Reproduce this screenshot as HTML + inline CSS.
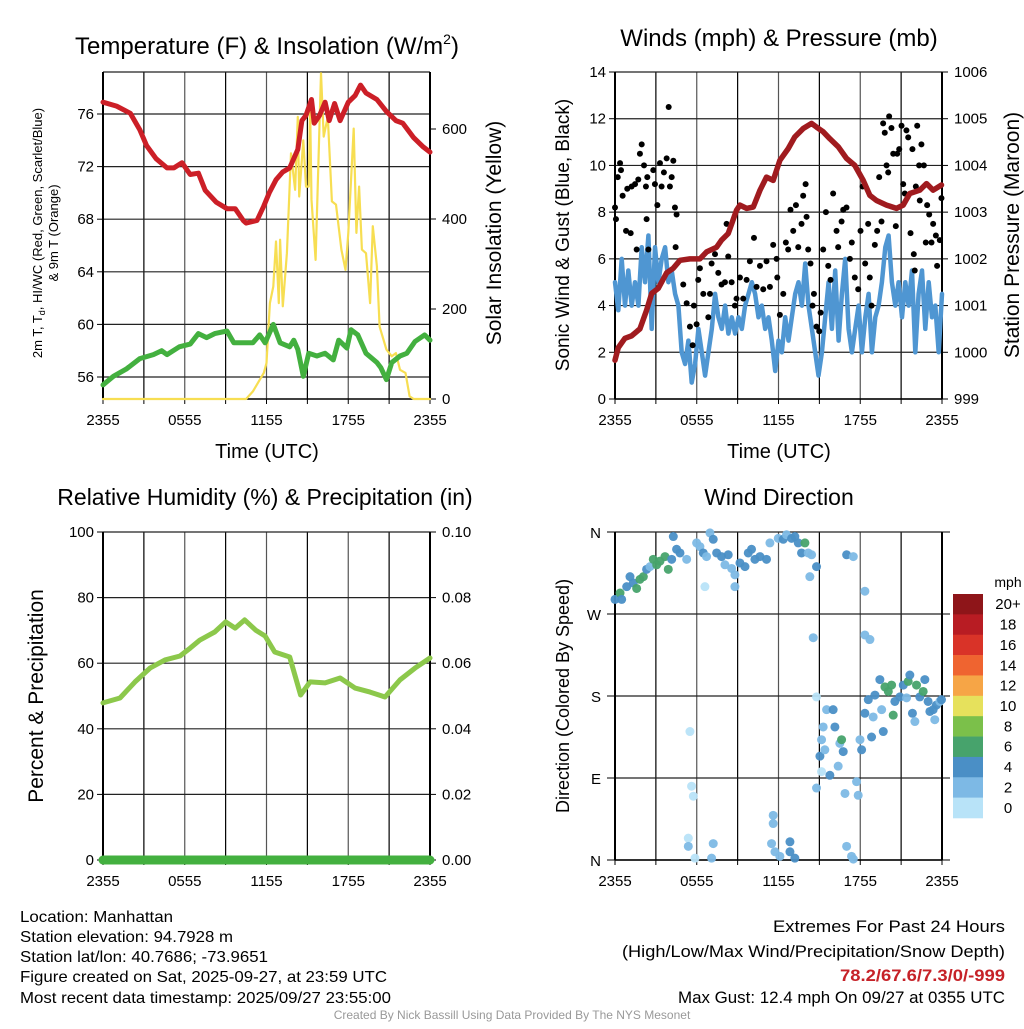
<!DOCTYPE html>
<html><head><meta charset="utf-8"><style>
html,body{margin:0;padding:0;background:#fff;}
svg text{font-family:"Liberation Sans",sans-serif;}
</style></head><body>
<svg id="root" width="1024" height="1024" viewBox="0 0 1024 1024" xmlns="http://www.w3.org/2000/svg">
<rect width="1024" height="1024" fill="#fff"/>
<g id="p1"></g>
<g id="p2"></g>
<g id="p3"></g>
<g id="p4"></g>
<g font-size="16" fill="#000">
<text x="20" y="922" textLength="153" lengthAdjust="spacingAndGlyphs">Location: Manhattan</text>
<text x="20" y="942" textLength="213" lengthAdjust="spacingAndGlyphs">Station elevation: 94.7928 m</text>
<text x="20" y="962" textLength="248" lengthAdjust="spacingAndGlyphs">Station lat/lon: 40.7686; -73.9651</text>
<text x="20" y="982" textLength="367" lengthAdjust="spacingAndGlyphs">Figure created on Sat, 2025-09-27, at 23:59 UTC</text>
<text x="20" y="1003" textLength="371" lengthAdjust="spacingAndGlyphs">Most recent data timestamp: 2025/09/27 23:55:00</text>
</g>
<g font-size="17" fill="#000">
<text x="773" y="932" textLength="232" lengthAdjust="spacingAndGlyphs">Extremes For Past 24 Hours</text>
<text x="622" y="957" textLength="383" lengthAdjust="spacingAndGlyphs">(High/Low/Max Wind/Precipitation/Snow Depth)</text>
<text x="840" y="981" textLength="165" lengthAdjust="spacingAndGlyphs" fill="#c62228" font-weight="bold">78.2/67.6/7.3/0/-999</text>
<text x="678" y="1003" textLength="327" lengthAdjust="spacingAndGlyphs">Max Gust: 12.4 mph On 09/27 at 0355 UTC</text>
</g>
<text x="512" y="1019" font-size="12" fill="#999" text-anchor="middle">Created By Nick Bassill Using Data Provided By The NYS Mesonet</text>
</svg>
<script>
// ---- Data ----
const xTickHours=[0,6,12,18,24];
const xTickLabels=["2355","0555","1155","1755","2355"];
const tempTimes=[0,1.0,2.0,2.7,3.2,3.9,4.7,5.2,5.8,6.4,7.0,7.5,8.3,9.1,9.7,10.3,10.5,11.3,11.8,12.2,12.7,13.2,13.7,14.3,14.6,14.9,15.3,15.5,15.9,16.3,16.6,17.0,17.4,18.0,18.5,18.9,19.3,20.1,20.8,21.5,22.0,22.8,23.5,24];
const tempVals=[76.9,76.6,76.05,74.8,73.6,72.6,71.9,71.9,72.3,71.4,71.5,70.2,69.3,68.8,68.8,67.9,67.7,67.9,69.0,70.0,71.0,71.6,71.9,73.3,75.5,75.9,77.1,75.3,75.9,76.9,75.5,76.8,75.5,76.9,77.4,78.2,77.6,77.1,76.2,75.5,75.3,74.2,73.5,73.1];
const dewTimes=[0,0.76,1.7,2.7,3.7,4.3,4.7,5.6,6.4,7.0,7.6,8.2,9.1,9.6,10.3,11.0,11.5,11.9,12.5,13.0,13.7,14.0,14.3,14.7,15.1,15.7,16.3,16.9,17.3,17.9,18.2,18.7,19.3,20.1,20.4,20.8,21.2,21.8,22.3,22.9,23.6,24];
const dewVals=[55.4,56.05,56.6,57.4,57.7,58.0,57.7,58.3,58.5,59.3,59.0,59.3,59.5,58.6,58.6,58.6,59.2,58.6,60.0,58.6,58.3,58.8,58.1,56.05,57.8,57.6,57.8,57.3,58.8,58.2,59.6,59.2,57.8,57.1,56.7,55.8,57.1,57.6,57.8,58.7,59.2,58.8];
const solarTimes=[0,10.5,11.0,11.8,12.0,12.25,12.5,12.7,12.9,13.0,13.2,13.5,13.8,14.1,14.3,14.4,14.7,14.9,15.1,15.2,15.3,15.6,15.8,16.0,16.2,16.5,16.8,17.1,17.5,17.8,18.0,18.4,18.6,18.8,19.0,19.3,19.6,19.8,20.1,20.3,20.8,21.2,21.5,21.8,22.2,22.5,22.8,24];
const solarVals=[0,0,17,58,80,213,250,350,213,354,206,324,546,465,627,450,575,472,472,650,443,309,516,724,583,627,439,432,332,287,369,601,369,472,332,324,213,384,295,161,110,95,102,65,58,6,0,0];
const windVals=[5,3.8,6,4,5.5,4,5,4,6.5,5,7,3,6.5,5,6,6.5,5,5.5,4.5,4,2,1.5,2.5,0.7,1.5,3,2,1,2,3,4.5,3.5,3,4,2.8,3.5,2.8,3.5,3,4,4.5,5,4.5,3.5,4,3,3.5,2.5,1.2,2.5,2,3.5,2.5,3.5,4.5,5,4,5.8,4,3,2,1,2,3.5,5,3,5.5,2.5,4.5,6,3,2,3,4,2,3.5,4.5,2,3.5,4,5,6.5,7,5,4,5,3.5,5,4,5.5,2,4.5,5.5,3,5,3.5,4,2,4.5];
const gustTimes=[0,0.07,0.2,0.37,0.44,0.56,0.81,0.9,1.15,1.22,1.47,1.59,1.71,1.83,1.96,2.13,2.27,2.32,2.37,2.45,2.81,2.93,3.11,3.3,3.42,3.59,3.79,3.94,4.03,4.16,4.28,4.4,4.52,4.45,5.01,5.26,5.5,5.7,5.79,5.99,6.11,6.23,6.48,6.85,6.97,7.09,7.34,7.58,7.82,8.07,8.19,8.31,8.56,8.8,8.92,9.17,9.41,9.66,9.9,10.2,10.39,10.64,10.88,11.12,11.37,11.61,11.86,11.91,12.1,12.35,12.54,12.71,12.88,13.08,13.28,13.45,13.69,13.81,13.99,14.06,14.18,14.35,14.5,14.6,14.79,14.99,15.09,15.28,15.48,15.65,15.82,16.01,16.26,16.38,16.63,16.75,16.99,17.24,17.38,17.6,17.85,18.02,18.17,18.36,18.58,18.7,18.83,19.07,19.24,19.39,19.56,19.68,19.8,19.93,20.05,20.12,20.29,20.42,20.61,20.71,20.86,21.03,21.15,21.27,21.39,21.52,21.69,21.83,21.93,22.0,22.08,22.18,22.32,22.37,22.49,22.67,22.81,22.91,23.06,23.23,23.35,23.55,23.64,23.84,23.96];
const gustVals=[8.2,7.7,9.5,10.1,9.8,8.7,7.2,9.0,7.1,9.1,9.2,6.4,9.4,10.5,10.9,10.0,9.1,7.7,9.5,6.4,9.8,9.2,8.3,10.1,9.1,9.7,10.3,12.5,9.1,9.5,10.2,8.2,7.9,6.5,4.9,4.1,3.1,2.3,4.0,3.2,5.1,5.6,4.5,3.5,4.5,5.8,6.2,5.4,4.9,5.0,7.5,6.1,5.0,4.0,4.3,5.2,4.3,5.1,5.9,6.9,4.8,5.7,4.7,5.9,4.8,6.6,6.0,5.2,3.6,4.5,6.7,6.4,8.1,7.2,8.3,6.5,7.5,8.7,9.2,7.8,6.4,5.8,4.0,4.5,3.1,2.9,3.7,6.4,8.0,5.7,5.1,8.8,7.2,6.5,7.6,8.1,8.2,6.0,6.7,5.2,4.7,7.2,9.1,5.8,7.5,5.2,4.0,6.6,7.2,9.5,7.6,11.8,11.4,10.0,9.7,12.1,11.6,10.5,7.4,10.5,10.7,11.7,9.2,8.8,11.5,11.2,7.1,10.7,6.2,5.5,9.1,11.7,10.0,8.5,10.9,10.0,6.7,8.3,7.9,6.7,7.5,7.0,5.7,6.8,8.6];
const presTimes=[0,0.24,0.73,1.22,1.83,2.32,2.69,3.18,3.79,4.28,4.77,5.5,6.23,6.72,7.46,7.82,8.31,8.92,9.17,9.66,10.15,10.64,11.12,11.61,12.1,12.71,13.2,13.81,14.43,14.79,15.28,15.77,16.38,16.99,17.6,18.22,18.7,19.19,19.93,20.66,21.15,21.64,22.37,22.86,23.35,23.96];
const presVals=[999.83,1000.1,1000.3,1000.35,1000.5,1000.9,1001.26,1001.37,1001.7,1001.8,1001.97,1002.0,1002.0,1002.15,1002.25,1002.4,1002.54,1003.04,1003.15,1003.08,1003.11,1003.47,1003.75,1003.68,1004.11,1004.36,1004.61,1004.79,1004.9,1004.82,1004.72,1004.57,1004.4,1004.15,1004.0,1003.68,1003.36,1003.25,1003.15,1003.08,1003.15,1003.4,1003.47,1003.61,1003.47,1003.58];
const rhTimes=[0,1.25,2.35,3.45,4.55,5.65,6.4,7.1,8.2,9.0,9.7,10.4,11.2,11.9,12.6,13.7,14.5,15.2,16.3,17.4,18.5,19.6,20.7,21.8,22.9,24];
const rhVals=[47.9,49.4,54.3,58.5,61,62.2,64.6,67,69.5,72.6,70.7,73.2,70.1,68.3,63.4,61.9,50.3,54.3,54,55.5,52.4,51.2,49.7,54.9,58.5,61.6];
const precipTimes=[0,24];
const precipVals=[0,0];
const dirTimes=[0,0.37,0.49,0.86,1.10,1.34,1.59,1.83,2.08,2.32,2.57,2.81,3.06,3.30,3.67,3.91,4.16,4.28,4.52,4.77,5.26,5.99,6.23,6.48,6.60,6.72,6.97,7.21,7.46,7.82,8.07,8.31,8.56,8.80,8.80,9.17,9.54,9.78,10.02,10.27,10.64,11.12,11.37,11.98,12.35,12.59,12.96,13.20,13.45,13.69,13.94,14.18,14.43,14.79,14.30,14.55,14.79,15.53,15.28,15.16,15.04,15.40,16.01,16.14,16.50,16.63,16.75,16.38,15.77,15.16,14.79,16.88,17.00,17.49,17.73,17.85,17.98,18.10,18.34,18.34,18.71,18.34,18.59,18.83,18.95,19.08,19.44,19.57,19.69,19.81,20.06,20.30,20.42,20.54,20.91,21.16,21.40,21.52,21.64,21.83,22.01,22.13,22.37,22.62,22.74,22.98,23.11,23.35,23.47,23.59,23.84,23.96,5.38,5.38,5.62,5.75,5.50,7.21,7.09,5.87,11.61,11.49,11.74,12.10,12.84,12.84,13.20,11.61,17.00,17.36,17.49];
const dirDeg=[286,293,286,300,311,304,298,308,311,319,322,330,324,328,333,319,330,355,341,337,330,348,344,337,300,333,359,352,337,333,324,335,320,313,300,326,322,337,341,330,333,330,348,353,352,357,353,355,348,337,348,337,335,322,311,244,179,165,146,132,114,121,165,146,128,132,119,103,93,97,79,73,335,333,86,71,132,121,295,247,242,161,176,135,157,181,198,165,141,190,185,192,159,174,179,192,178,196,203,161,152,192,179,185,198,174,163,165,154,170,174,176,24,15,81,70,141,18,2,2,49,18,9,4,20,9,2,40,15,4,1];
const dirSpeed=[4,6,4,4,4,4,6,6,6,4,2,6,6,6,6,6,4,4,4,4,2,2,2,4,0,2,2,4,4,4,2,4,2,2,2,4,4,4,4,4,4,4,2,2,4,2,4,4,4,4,6,2,2,4,2,2,0,2,2,2,4,2,4,4,2,6,4,2,4,0,2,2,4,2,2,2,2,4,2,2,2,4,4,4,2,4,4,2,4,6,6,6,6,4,4,4,2,6,4,4,2,6,4,6,4,4,4,4,2,4,2,4,0,2,0,0,0,2,2,0,2,2,2,2,4,4,4,2,2,2,2];
const cbLabels=["20+","18","16","14","12","10","8","6","4","2","0"];
const cbColors=["#8e1519","#b81c23","#d93328","#ef6430","#f6a546","#e6e15c","#7bc04a","#47a36c","#4a8fc6","#7db9e5","#b8e3f8"];

// ---- Helpers ----
const NS="http://www.w3.org/2000/svg";
function mk(parent,tag,attrs){const e=document.createElementNS(NS,tag);for(const k in attrs)e.setAttribute(k,attrs[k]);parent.appendChild(e);return e;}
function txt(parent,x,y,s,size,anchor,extra){const t=mk(parent,"text",Object.assign({x:x,y:y,"font-size":size,"text-anchor":anchor||"middle",fill:"#000"},extra||{}));t.textContent=s;return t;}
function lin(a0,a1,p0,p1){return v=>p0+(v-a0)/(a1-a0)*(p1-p0);}
function polyline(parent,xs,ys,fx,fy,color,w){let d="";for(let i=0;i<xs.length;i++)d+=(i?"L":"M")+fx(xs[i]).toFixed(1)+","+fy(ys[i]).toFixed(1);return mk(parent,"path",{d:d,fill:"none",stroke:color,"stroke-width":w,"stroke-linejoin":"round","stroke-linecap":"round"});}

function frame(g,L,R,T,B,fx,hLines){
  for(const h of [3,6,9,12,15,18,21]){const l=mk(g,"line",{x1:fx(h),x2:fx(h),y1:T,y2:B,stroke:(h%6? "#000":"#555"),"stroke-width":1.2});
    
    }
  for(const y of hLines){const l=mk(g,"line",{x1:L,x2:R,y1:y,y2:y,stroke:"#222","stroke-width":1.2});
    
    }
  const bl=mk(g,"line",{x1:L,x2:L,y1:T,y2:B,stroke:"#000","stroke-width":2});
  
  
  const br=mk(g,"line",{x1:R,x2:R,y1:T,y2:B,stroke:"#000","stroke-width":2});
  
  
  const bb=mk(g,"line",{x1:L,x2:R,y1:B,y2:B,stroke:"#000","stroke-width":1.5});
  
  
  for(let i=0;i<xTickHours.length;i++){
    const t=txt(g,fx(xTickHours[i]),B+26,xTickLabels[i],15);
    
    
  }
  for(let h=0;h<=24;h+=3){mk(g,"line",{x1:fx(h),x2:fx(h),y1:B,y2:B+5,stroke:"#000","stroke-width":1});}
}
function leftTicks(g,L,vals,labels,fy){for(let i=0;i<vals.length;i++){const y=fy(vals[i]);mk(g,"line",{x1:L-6,x2:L,y1:y,y2:y,stroke:"#000","stroke-width":1});const t=txt(g,L-9,y+5,labels[i],15,"end");
  
  }}
function rightTicks(g,R,vals,labels,fy){for(let i=0;i<vals.length;i++){const y=fy(vals[i]);mk(g,"line",{x1:R,x2:R+6,y1:y,y2:y,stroke:"#000","stroke-width":1});const t=txt(g,R+12,y+5,labels[i],15,"start");
  
  }}
function rotLabel(g,x,y,s,size,deg){const t=mk(g,"text",{x:0,y:0,"font-size":size,"text-anchor":"middle",fill:"#000",transform:`translate(${x},${y}) rotate(${deg})`});t.textContent=s;return t;}

// ---- Panel 1 ----
(function(){
  const g=document.getElementById("p1");
  const L=103,R=430,T=72,B=399;
  const fx=lin(0,24,L,R), fy=lin(56,76,377,114), fs=lin(0,600,399,129);
  const tv=[56,60,64,68,72,76];
  frame(g,L,R,T,B,fx,tv.map(fy).concat([T]));
  leftTicks(g,L,tv,tv.map(String),fy);
  const sv=[0,200,400,600];
  rightTicks(g,R,sv,sv.map(String),fs);
  const t=mk(g,"text",{x:267,y:54,"font-size":24,"text-anchor":"middle",fill:"#000"});
  t.innerHTML='Temperature (F) &amp; Insolation (W/m<tspan dy="-10" font-size="14">2</tspan><tspan dy="10">)</tspan>';
  
  
  const xl=txt(g,267,458,"Time (UTC)",20);
  
  
  const y1=mk(g,"text",{x:0,y:0,"font-size":13,"text-anchor":"middle",fill:"#000",transform:"translate(42,233) rotate(-90)"});
  y1.innerHTML='2m T, T<tspan dy="3" font-size="9">d</tspan><tspan dy="-3">, HI/WC (Red, Green, Scarlet/Blue)</tspan>';
  
  
  const y2=rotLabel(g,58,233,"& 9m T (Orange)",13,-90);
  
  
  const y3=rotLabel(g,501,233,"Solar Insolation (Yellow)",21,-90);
  
  
  const s=polyline(g,solarTimes,solarVals,fx,fs,"#f7de52",2.2);
  
  
  const d=polyline(g,dewTimes,dewVals,fx,fy,"#43b03f",5);
  
  
  const r=polyline(g,tempTimes,tempVals,fx,fy,"#cc1f27",5);
  
  
})();

// ---- Panel 2 ----
(function(){
  const g=document.getElementById("p2");
  const L=615,R=942,T=72,B=399;
  const fx=lin(0,24,L,R), fy=lin(0,14,399,72), fp=lin(999,1006,399,72);
  const wv=[0,2,4,6,8,10,12,14];
  frame(g,L,R,T,B,fx,wv.map(fy));
  leftTicks(g,L,wv,wv.map(String),fy);
  const pv=[999,1000,1001,1002,1003,1004,1005,1006];
  rightTicks(g,R,pv,pv.map(String),fp);
  const t=txt(g,779,46,"Winds (mph) & Pressure (mb)",24);
  
  
  const xl=txt(g,779,458,"Time (UTC)",20);
  
  
  const yl=rotLabel(g,569,235,"Sonic Wind & Gust (Blue, Black)",19,-90);
  
  
  const yr=rotLabel(g,1019,235,"Station Pressure (Maroon)",21,-90);
  
  
  const wt=windVals.map((v,i)=>i*24/(windVals.length-1));
  const w=polyline(g,wt,windVals,fx,fy,"#4f96d2",4.5);
  
  
  for(let i=0;i<gustTimes.length;i++){
    const c=mk(g,"circle",{cx:fx(gustTimes[i]),cy:fy(gustVals[i]),r:3,fill:"#000"});
    
    
  }
  const p=polyline(g,presTimes,presVals,fx,fp,"#a01b1f",5.5);
  
  
})();

// ---- Panel 3 ----
(function(){
  const g=document.getElementById("p3");
  const L=103,R=430,T=532,B=860;
  const fx=lin(0,24,L,R), fy=lin(0,100,860,532), fpr=lin(0,0.1,860,532);
  const rv=[0,20,40,60,80,100];
  frame(g,L,R,T,B,fx,rv.map(fy));
  leftTicks(g,L,rv,rv.map(String),fy);
  const pv=[0,0.02,0.04,0.06,0.08,0.10];
  rightTicks(g,R,pv,pv.map(v=>v.toFixed(2)),fpr);
  const t=txt(g,265,505,"Relative Humidity (%) & Precipitation (in)",23);
  
  
  const yl=rotLabel(g,43,696,"Percent & Precipitation",21,-90);
  
  
  const h=polyline(g,rhTimes,rhVals,fx,fy,"#8cc84b",5);
  
  
  const p=polyline(g,precipTimes,precipVals,fx,fpr,"#43b03f",9);
  
  
})();

// ---- Panel 4 ----
(function(){
  const g=document.getElementById("p4");
  const L=615,R=942,T=532,B=860;
  const fx=lin(0,24,L,R), fy=lin(0,360,860,532);
  const dv=[0,90,180,270,360], dl=["N","E","S","W","N"];
  frame(g,L,R,T,B,fx,dv.map(fy));
  for(let i=0;i<dv.length;i++){const y=fy(dv[i]);mk(g,"line",{x1:L-8,x2:L,y1:y,y2:y,stroke:"#000","stroke-width":1});mk(g,"line",{x1:R,x2:R+8,y1:y,y2:y,stroke:"#000","stroke-width":1});
    const tl=txt(g,L-14,y+6,dl[i],15,"end");
    
    }
  const t=txt(g,779,505,"Wind Direction",23);
  
  
  const yl=rotLabel(g,569,696,"Direction (Colored By Speed)",18,-90);
  
  
  function col(s){const idx=Math.min(10,Math.floor(s/2));return cbColors[10-idx];}
  for(let i=0;i<dirTimes.length;i++){
    const c=mk(g,"circle",{cx:fx(dirTimes[i]),cy:fy(dirDeg[i]),r:4.5,fill:col(dirSpeed[i]),opacity:0.95});
    
    
  }
  const cb=mk(g,"g",{});
  
  
  const top=594,bh=224/cbLabels.length;
  for(let i=0;i<cbLabels.length;i++){
    const r=mk(cb,"rect",{x:953,y:top+i*bh,width:30,height:bh+0.3,fill:cbColors[i]});
    
    
    const l=txt(cb,1008,top+i*bh+bh/2+5,cbLabels[i],15);
    
    
  }
  const m=txt(cb,1008,587,"mph",14);
  
  
})();
</script>
</body></html>
